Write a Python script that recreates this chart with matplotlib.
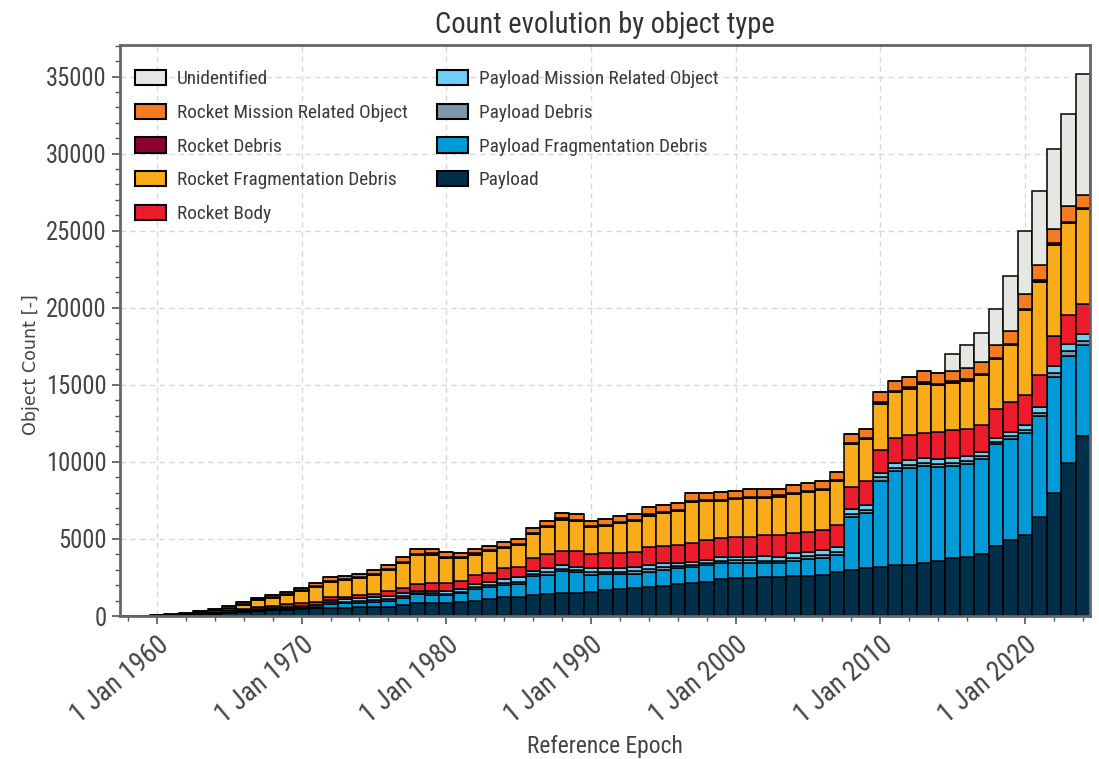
import matplotlib
matplotlib.use("Agg")
import matplotlib.pyplot as plt
import matplotlib.dates as mdates
from matplotlib import font_manager
from matplotlib.ticker import MultipleLocator, FuncFormatter
from datetime import date

# ---------------------------------------------------------------- data
years = list(range(1958, 2025))

payload = [3, 10, 25, 40, 60, 110, 150, 200, 260, 320, 370, 420, 460, 490,
           500, 500, 560, 560, 610, 710, 820, 820, 870, 930,
           1000, 1080, 1210, 1260, 1360, 1430, 1470, 1470, 1580, 1690,
           1730, 1800, 1900, 1950, 2060, 2120, 2230, 2380, 2450, 2490,
           2500, 2550, 2600, 2600, 2660, 2840, 2990, 3100, 3200, 3310,
           3310, 3460, 3590, 3750, 3850, 4010, 4550, 4900, 5250, 6400,
           7980, 9900, 11650]

payload_frag_debris = [0, 0, 0, 0, 0, 0, 10, 20, 30, 40, 50, 60, 80, 60,
                       300, 320, 310, 370, 390, 440, 610, 540, 490, 540,
                       750, 830, 800, 790, 1240, 1230, 1440, 1410, 1080, 1040,
                       1000, 930, 980, 1040, 1040, 1080, 1080, 1080, 1010, 970,
                       920, 870, 990, 1080, 1090, 1120, 3420, 3570, 5590, 6110,
                       6280, 6300, 6110, 5990, 6000, 6170, 6580, 6570, 6630, 6600,
                       7540, 7000, 5920]

payload_debris = [0, 0, 0, 0, 0, 10, 10, 10, 10, 20, 20, 20, 30, 30,
                  100, 100, 110, 110, 120, 130, 90, 110, 100, 110,
                  120, 130, 150, 180, 130, 170, 150, 120, 170, 140,
                  140, 180, 160, 160, 140, 130, 130, 130, 150, 150,
                  180, 160, 180, 190, 200, 200, 200, 200, 200, 200,
                  200, 180, 180, 190, 190, 190, 170, 180, 200, 200,
                  250, 280, 280]

payload_mro = [0, 0, 5, 10, 20, 30, 40, 50, 60, 70, 80, 90, 100, 110,
               150, 160, 170, 170, 180, 190, 130, 180, 160, 170,
               190, 190, 220, 280, 210, 270, 250, 200, 270, 230,
               230, 290, 270, 270, 220, 200, 200, 220, 240, 240,
               300, 270, 300, 310, 340, 340, 320, 340, 320, 340,
               340, 300, 300, 310, 310, 300, 280, 300, 320, 350,
               440, 460, 430]

rocket_body = [2, 6, 15, 20, 30, 50, 60, 80, 100, 130, 150, 170, 200, 230,
               210, 180, 210, 220, 350, 330, 410, 470, 500, 550,
               600, 580, 720, 650, 810, 910, 900, 1040, 930, 1010,
               1010, 980, 1150, 1130, 1150, 1230, 1300, 1230, 1260, 1300,
               1330, 1410, 1340, 1300, 1300, 1410, 1470, 1520, 1470, 1580,
               1630, 1620, 1730, 1840, 1770, 1740, 1870, 1910, 1960, 2070,
               1940, 1890, 1940]

rocket_frag_debris = [0, 0, 5, 20, 40, 80, 110, 150, 280, 450, 510, 580, 750, 970,
                      960, 1050, 1080, 1230, 1340, 1650, 1890, 1870, 1650, 1470,
                      1330, 1400, 1320, 1440, 1580, 1760, 2050, 1920, 1740, 1720,
                      1940, 1980, 2060, 2150, 2190, 2650, 2510, 2410, 2450, 2520,
                      2440, 2480, 2480, 2580, 2560, 2840, 2730, 2730, 2980, 2970,
                      2990, 3200, 3060, 3040, 3150, 3210, 3210, 3710, 5490, 6060,
                      5950, 5950, 6180]

rocket_debris = [0, 0, 0, 0, 10, 20, 20, 30, 40, 50, 60, 70, 80, 80,
                 70, 70, 70, 70, 80, 80, 80, 80, 80, 80,
                 80, 80, 80, 80, 80, 80, 80, 80, 80, 80,
                 80, 80, 80, 80, 80, 80, 80, 80, 80, 80,
                 80, 80, 80, 80, 80, 80, 80, 80, 100, 100,
                 100, 100, 100, 100, 100, 100, 100, 100, 100, 100,
                 100, 100, 100]

rocket_mro = [0, 2, 10, 20, 30, 50, 60, 80, 100, 110, 120, 130, 140, 150,
              270, 220, 240, 270, 270, 300, 290, 280, 300, 250,
              280, 280, 300, 320, 310, 340, 360, 360, 340, 370,
              360, 380, 460, 410, 440, 460, 470, 490, 470, 500,
              480, 410, 520, 520, 560, 540, 590, 610, 670, 670,
              690, 710, 690, 650, 720, 730, 800, 800, 930, 970,
              920, 1030, 850]

unidentified = [0, 0, 0, 0, 0, 0, 0, 0, 0, 0, 0, 0, 0, 0,
                0, 0, 0, 0, 0, 0, 0, 0, 0, 0,
                0, 0, 0, 0, 0, 0, 0, 0, 0, 0,
                0, 0, 0, 0, 0, 0, 0, 0, 0, 0,
                0, 0, 0, 0, 0, 0, 0, 0, 0, 0,
                0, 0, 0, 1150, 1510, 1910, 2390, 3580, 4100, 4830,
                5170, 5980, 7820]

# stacking order, bottom to top
series = [
    ("Payload", payload, "#003049"),
    ("Payload Fragmentation Debris", payload_frag_debris, "#009ad8"),
    ("Payload Debris", payload_debris, "#7d97a9"),
    ("Payload Mission Related Object", payload_mro, "#6ccff5"),
    ("Rocket Body", rocket_body, "#ec1c2d"),
    ("Rocket Fragmentation Debris", rocket_frag_debris, "#f9ab1a"),
    ("Rocket Debris", rocket_debris, "#8b0034"),
    ("Rocket Mission Related Object", rocket_mro, "#f47b20"),
    ("Unidentified", unidentified, "#e6e6e2"),
]

# ---------------------------------------------------------------- fonts
def first_installed(names, fallback="DejaVu Sans"):
    for name in names:
        try:
            font_manager.findfont(font_manager.FontProperties(family=name),
                                  fallback_to_default=False)
            return name
        except Exception:
            continue
    return fallback

narrow = first_installed(["Liberation Sans Narrow", "DejaVu Sans Condensed",
                          "Roboto Condensed", "Open Sans Condensed", "Roboto"])
plt.rcParams["font.family"] = [narrow, "DejaVu Sans"]

fig = plt.figure(figsize=(10.99, 7.59), dpi=100)
renderer = fig.canvas.get_renderer()


def size_for_width(text, width_px, family=None):
    """Font size (pt) at which `text` spans `width_px` pixels."""
    kw = {"family": family} if family else {}
    probe = fig.text(0, 0, text, fontsize=10, **kw)
    w = probe.get_window_extent(renderer).width
    probe.remove()
    return 10.0 * width_px / w


fs_title = size_for_width("Count evolution by object type", 338)
fs_legend = size_for_width("Rocket Mission Related Object", 230)
fs_xlabel = size_for_width("Reference Epoch", 155)
fs_yticks = size_for_width("35000", 60)
fs_xticks = size_for_width("1 Jan 1960", 118)
fs_ylabel = size_for_width("Object Count [-]", 140, family="DejaVu Sans")
legend_px = fs_legend * 100 / 72.0

# ---------------------------------------------------------------- axes
ax_left, ax_bottom, ax_w, ax_h = 0.1092, 0.1884, 0.8826, 0.7523
ax = fig.add_axes([ax_left, ax_bottom, ax_w, ax_h])
ax_w_px, ax_h_px = ax_w * 1099, ax_h * 759

epochs = [date(y, 1, 1) for y in years]
bottom = [0.0] * len(years)
handles = []
for name, values, color in series:
    bars = ax.bar(epochs, values, width=365, bottom=bottom, color=color,
                  edgecolor="black", linewidth=1.1, label=name, zorder=2)
    handles.append(bars)
    bottom = [b + v for b, v in zip(bottom, values)]

ax.set_xlim(date(1957, 6, 14), date(2024, 6, 28))
ax.set_ylim(0, 37050)

ax.xaxis.set_major_locator(mdates.YearLocator(10))
ax.xaxis.set_minor_locator(mdates.YearLocator(2))
ax.xaxis.set_major_formatter(
    FuncFormatter(lambda v, pos: (lambda d: f"{d.day} {d.strftime('%b')} {d.year}")(mdates.num2date(v))))
ax.yaxis.set_major_locator(MultipleLocator(5000))
ax.yaxis.set_minor_locator(MultipleLocator(1000))

ax.tick_params(axis="both", which="major", direction="out", length=6, width=1.2,
               colors="#555555", labelcolor="#444444")
ax.tick_params(axis="y", which="major", labelsize=fs_yticks)
ax.tick_params(axis="x", which="major", labelsize=fs_xticks, pad=5)
ax.tick_params(axis="both", which="minor", direction="out", length=3.5, width=1.0,
               colors="#555555")
for lab in ax.get_xticklabels():
    lab.set_rotation(40)
    lab.set_ha("right")
    lab.set_rotation_mode("anchor")

ax.grid(True, which="major", linestyle=(0, (4, 3)), color="#d8d8d8", linewidth=1.0)
ax.set_axisbelow(True)

for side, sp in ax.spines.items():
    sp.set_color("#666666")
    sp.set_linewidth(2.0)

ax.set_title("Count evolution by object type", fontsize=fs_title, color="#333333", pad=9)
ax.set_xlabel("Reference Epoch", fontsize=fs_xlabel, color="#444444", labelpad=5)
ax.set_ylabel("Object Count [-]", fontsize=fs_ylabel, color="#444444",
              family=["DejaVu Sans"])
ax.yaxis.set_label_coords(-0.082, 0.44)

# legend anchored so that the first swatch sits 15 px right of the spine
pad = 0.4
anchor_x = (15 - pad * legend_px) / ax_w_px
anchor_y = 1 - (0.75 * legend_px + 3) / ax_h_px
leg = ax.legend(handles[::-1], [s[0] for s in series][::-1], ncol=2,
                loc="upper left", bbox_to_anchor=(anchor_x, anchor_y),
                frameon=False, fontsize=fs_legend,
                handlelength=31 / legend_px, handleheight=16 / legend_px,
                handletextpad=11 / legend_px, labelspacing=0.8,
                columnspacing=29 / legend_px, borderaxespad=0.0,
                borderpad=pad)
for t in leg.get_texts():
    t.set_color("#3a3a3a")
for h in leg.legend_handles:
    h.set_linewidth(1.5)

fig.savefig("out.png", dpi=100)
